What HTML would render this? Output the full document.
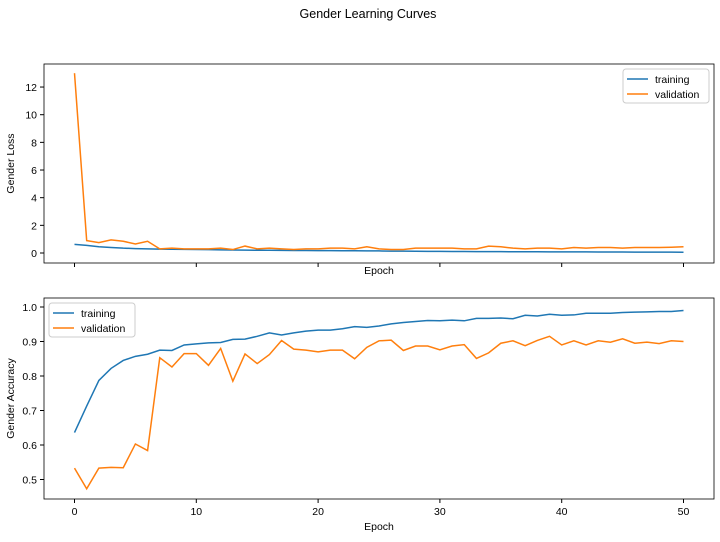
<!DOCTYPE html>
<html><head><meta charset="utf-8"><style>
body{margin:0;background:#fff;}
svg{font-family:"Liberation Sans","DejaVu Sans",sans-serif;}
</style></head><body>
<svg id="c" width="720" height="537">
<text x="368" y="18" text-anchor="middle" font-size="12.5">Gender Learning Curves</text>
</svg>
<script>
const epochs = Array.from({length:51},(_,i)=>i);
const lossTrain = [0.62,0.55,0.45,0.4,0.35,0.32,0.3,0.28,0.27,0.26,0.25,0.24,0.23,0.22,0.21,0.2,0.2,0.19,0.18,0.18,0.17,0.17,0.16,0.16,0.15,0.15,0.14,0.14,0.13,0.12,0.12,0.11,0.11,0.1,0.1,0.1,0.09,0.09,0.09,0.08,0.08,0.08,0.08,0.07,0.07,0.07,0.06,0.06,0.06,0.06,0.05];
const lossVal = [13,0.9,0.75,0.95,0.85,0.65,0.85,0.3,0.35,0.3,0.3,0.3,0.35,0.25,0.5,0.3,0.35,0.3,0.25,0.3,0.3,0.35,0.35,0.3,0.45,0.3,0.25,0.25,0.35,0.35,0.35,0.35,0.3,0.3,0.5,0.45,0.35,0.3,0.35,0.35,0.3,0.4,0.35,0.4,0.4,0.35,0.4,0.4,0.4,0.42,0.45];
const accTrain = [0.636,0.713,0.787,0.822,0.845,0.857,0.863,0.875,0.874,0.890,0.893,0.896,0.897,0.906,0.907,0.915,0.925,0.919,0.925,0.930,0.933,0.933,0.937,0.943,0.941,0.945,0.951,0.955,0.958,0.961,0.960,0.962,0.960,0.967,0.967,0.968,0.966,0.976,0.974,0.979,0.976,0.977,0.982,0.982,0.982,0.984,0.985,0.986,0.987,0.987,0.990];
const accVal = [0.533,0.473,0.533,0.535,0.534,0.603,0.584,0.853,0.826,0.865,0.865,0.831,0.880,0.785,0.864,0.836,0.862,0.903,0.878,0.875,0.870,0.875,0.875,0.850,0.883,0.902,0.904,0.874,0.887,0.887,0.876,0.887,0.891,0.851,0.867,0.895,0.902,0.888,0.903,0.915,0.890,0.902,0.890,0.902,0.898,0.908,0.895,0.898,0.894,0.902,0.900];
const xTicks = [0,10,20,30,40,50];
const lossTicks = [0,2,4,6,8,10,12];
const accTicks = [0.5,0.6,0.7,0.8,0.9,1.0];
const NS="http://www.w3.org/2000/svg";
const svg=document.getElementById('c');
function mk(tag,attrs,parent){const e=document.createElementNS(NS,tag);for(const k in attrs)e.setAttribute(k,attrs[k]);(parent||svg).appendChild(e);return e;}
const L=44,R=714;
const xScale=v=>74.5+v*12.18;
function panel(top,bottom,yScale,yTicks,fmt,s1,s2,name,ylabel,legendRight,showXLabels){
  const g=mk('g',{});
  
  
  for(const t of yTicks){const y=yScale(t);
    mk('line',{x1:L-4,x2:L,y1:y,y2:y,stroke:'#000'},g);
    const tx=mk('text',{x:37,y:y+4,'text-anchor':'end','font-size':10.5},g);tx.textContent=fmt(t);
    
    }
  for(const t of xTicks){const x=xScale(t);
    mk('line',{x1:x,x2:x,y1:bottom,y2:bottom+4,stroke:'#000'},g);
    if(showXLabels){const tx=mk('text',{x:x,y:bottom+16,'text-anchor':'middle','font-size':10.5},g);tx.textContent=t;
      
      }}
  const series=[[s1,'#1f77b4','training'],[s2,'#ff7f0e','validation']];
  for(const [d,c,n] of series){
    const p=mk('polyline',{points:d.map((v,i)=>xScale(epochs[i])+','+yScale(v)).join(' '),fill:'none',stroke:c,'stroke-width':1.5},g);
    
    }
  mk('rect',{x:L,y:top,width:R-L,height:bottom-top,fill:'none',stroke:'#000','stroke-width':0.8},g);
  const xl=mk('text',{x:379,y:bottom+(showXLabels?31:11),'text-anchor':'middle','font-size':10.5},g);xl.textContent='Epoch';
  
  
  const cy=(top+bottom)/2;
  const yl=mk('text',{x:14,y:cy,'text-anchor':'middle','font-size':10.5,transform:`rotate(-90 14 ${cy})`},g);yl.textContent=ylabel;
  
  
  const lx=legendRight?623:49, ly=top+5;
  const lg=mk('g',{},g);
  
  
  mk('rect',{x:lx,y:ly,width:86,height:34,rx:3,fill:'#fff',stroke:'#ccc'},lg);
  series.forEach(([d,c,n],i)=>{const yy=ly+10+i*15;
    mk('line',{x1:lx+4,x2:lx+25,y1:yy,y2:yy,stroke:c,'stroke-width':1.5},lg);
    const t=mk('text',{x:lx+32,y:yy+4,'font-size':10.5},lg);t.textContent=n;
    
    });
}
panel(64,263,v=>253-v*13.83,lossTicks,t=>t,lossTrain,lossVal,'loss-chart','Gender Loss',true,false);
panel(298,499,v=>307+(1-v)*345,accTicks,t=>t.toFixed(1),accTrain,accVal,'accuracy-chart','Gender Accuracy',false,true);
</script>
</body></html>
